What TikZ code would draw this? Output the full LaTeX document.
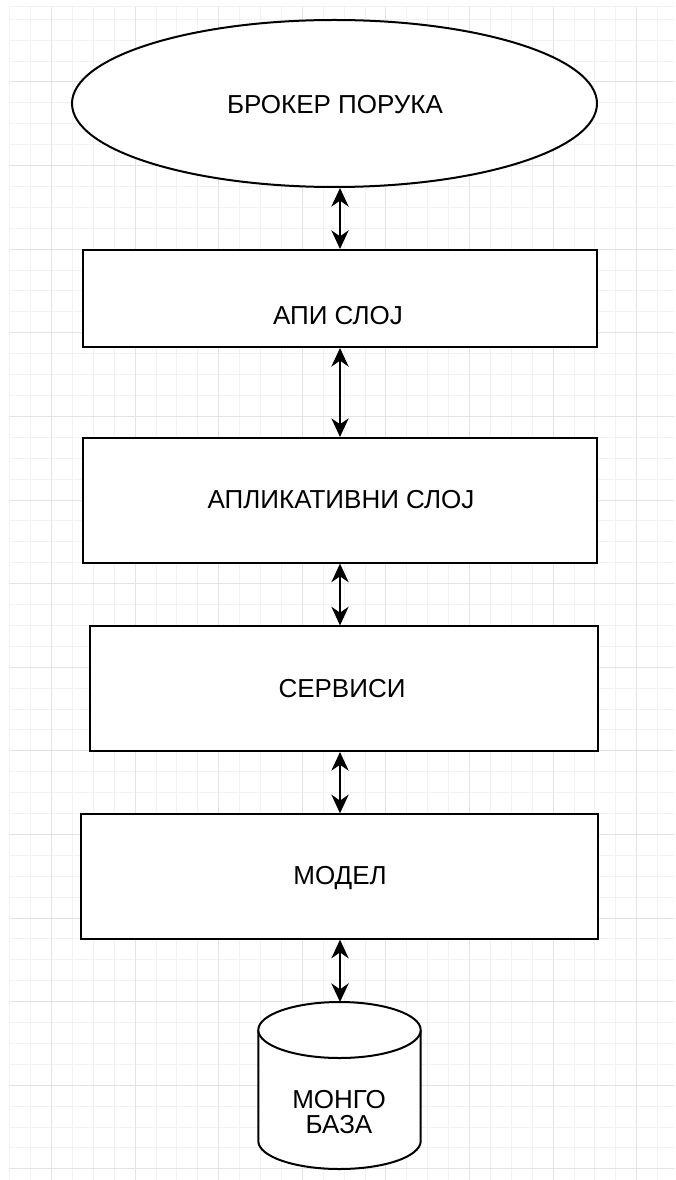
\documentclass[tikz,border=0pt]{standalone}
\usepackage{fontspec}
\setmainfont{Liberation Sans}
\usetikzlibrary{shapes.geometric,arrows.meta}
\tikzset{
  minorgrid/.style={draw=black!5,line width=0.75pt},
  majorgrid/.style={draw=black!11,line width=0.75pt},
  layerbox/.style={draw=black,line width=1.5pt,fill=white,rectangle,inner sep=0pt},
  lbl/.style={font=\fontsize{19.5}{19}\selectfont,inner sep=0pt,align=center},
  tipend/.style={Stealth[length=14pt,width=13pt,inset=4.5pt]},
  conn/.style={line width=1.2pt,{Stealth[length=14pt,width=13pt,inset=4.5pt]}-{Stealth[length=14pt,width=13pt,inset=4.5pt]}}
}
\begin{document}
\begin{tikzpicture}[x=0.75pt,y=-0.75pt]
\useasboundingbox[fill=white] (0,0) rectangle (675,1180);
% grid
\foreach \i in {0,...,31}{\draw[minorgrid] ({9.7+20.9*\i},7) -- ({9.7+20.9*\i},1180);}
\foreach \j in {0,...,55}{\draw[minorgrid] (9.7,{19.3+20.9*\j}) -- (675,{19.3+20.9*\j});}
\draw[minorgrid] (9.7,7) -- (675,7);
\foreach \i in {0,...,7}{\draw[majorgrid] ({51.5+83.6*\i},7) -- ({51.5+83.6*\i},1180);}
\foreach \j in {0,...,13}{\draw[majorgrid] (9.7,{82+83.6*\j}) -- (675,{82+83.6*\j});}
% nodes
\coordinate (ax) at (340,0);
\node[ellipse,draw=black,line width=1.5pt,fill=white,inner sep=0pt,
      minimum width=525*0.75pt,minimum height=167*0.75pt] (broker) at (334.5,103.5) {};
\node[lbl] (brokerlbl) at (335,105) {БРОКЕР ПОРУКА};
\node[layerbox,minimum width=513.5*0.75pt,minimum height=97*0.75pt] (api) at (339.75,298.5) {};
\node[lbl] (apilbl) at (338,316) {АПИ СЛОЈ};
\node[layerbox,minimum width=513.7*0.75pt,minimum height=124.7*0.75pt] (app) at (339.9,500.3) {};
\node[lbl] (applbl) at (341,500) {АПЛИКАТИВНИ СЛОЈ};
\node[layerbox,minimum width=508.6*0.75pt,minimum height=124.7*0.75pt] (srv) at (344,688.7) {};
\node[lbl] (srvlbl) at (342,689) {СЕРВИСИ};
\node[layerbox,minimum width=517.3*0.75pt,minimum height=124.4*0.75pt] (mdl) at (339.7,876.5) {};
\node[lbl] (mdllbl) at (340,878) {МОДЕЛ};
% cylinder
\draw[line width=1.5pt,fill=white] (258.3,1030) -- (258.3,1141)
  arc[start angle=180,end angle=0,x radius=81.2,y radius=28] -- (420.7,1030);
\draw[line width=1.5pt,fill=white] (339.5,1030) ellipse [x radius=81.2,y radius=28];
\coordinate (dbtop) at (340,1002);
\node[lbl] (dblbl) at (339,1112) {МОНГО\\БАЗА};
% connectors
\draw[conn] (broker.south -| ax) -- (api.north -| ax);
\draw[conn] (api.south -| ax) -- (app.north -| ax);
\draw[conn] (app.south -| ax) -- (srv.north -| ax);
\draw[conn] (srv.south -| ax) -- (mdl.north -| ax);
\draw[conn] (mdl.south -| ax) -- (dbtop);
\end{tikzpicture}
\end{document}
